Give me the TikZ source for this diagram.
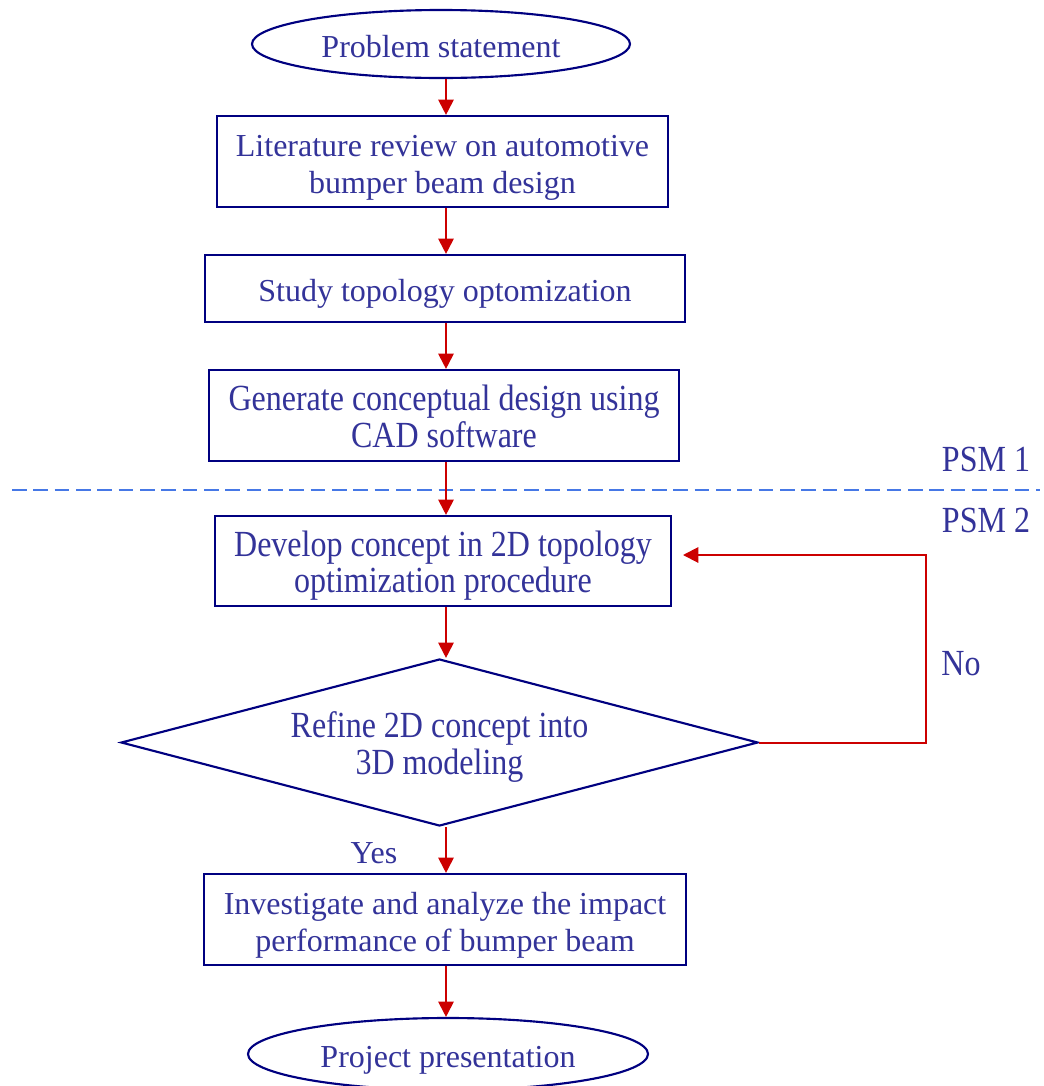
\documentclass[tikz,border=0pt]{standalone}
\usepackage{fontspec}
\setmainfont{Liberation Serif}
\usepackage{graphicx}
\usetikzlibrary{arrows.meta,shapes.geometric,calc}
\definecolor{txtblue}{RGB}{51,51,153}
\definecolor{navyline}{RGB}{0,0,128}
\definecolor{arrred}{RGB}{204,0,0}
\definecolor{dashblue}{RGB}{70,120,230}
% plain text, lowered a little inside its node
\newcommand\tx[1]{\raisebox{-4.5pt}[\height][\depth]{\begin{tabular}{@{}c@{}}#1\end{tabular}}}
% vertically stretched text
\newcommand\vs[2][24pt]{\raisebox{-4.5pt}[\height][\depth]{\scalebox{1}[1.15]{\fontsize{24pt}{#1}\selectfont\begin{tabular}{@{}c@{}}#2\end{tabular}}}}
\begin{document}
\begin{tikzpicture}[x=0.75pt,y=-0.75pt,
  every node/.style={text=txtblue,font=\fontsize{24pt}{27.75pt}\selectfont},
  procbox/.style={draw=navyline,line width=1.6pt,rectangle,inner sep=0pt,align=center},
  terminal/.style={draw=navyline,line width=1.6pt,ellipse,inner sep=0pt,align=center},
  decision/.style={draw=navyline,line width=1.6pt,diamond,inner sep=0pt,aspect=3.81,align=center},
  lbl/.style={inner sep=0pt},
  arr/.style={draw=arrred,line width=1.5pt,-{Triangle[width=11.5pt,length=11.5pt]}}]
\useasboundingbox (0,0) rectangle (1044,1086);
\fill[white] (0,0) rectangle (1044,1086);

\coordinate (ax) at (446,0);

\node[terminal,minimum width=283.5pt,minimum height=51pt] (e1) at (441,44) {\tx{Problem statement}};
\node[procbox,minimum width=338.25pt,minimum height=68.25pt] (b1) at (442.5,161.5) {\tx{Literature review on automotive\\bumper beam design}};
\node[procbox,minimum width=360pt,minimum height=50.25pt] (b2) at (445,288.5) {\tx{Study topology optomization}};
\node[procbox,minimum width=352.5pt,minimum height=68.25pt] (b3) at (444,415.5) {\vs[23.5pt]{Generate conceptual design using\\CAD software}};
\node[procbox,minimum width=342pt,minimum height=67.5pt] (b4) at (443,561) {\vs[23pt]{Develop concept in 2D topology\\optimization procedure}};
\node[decision,minimum width=477.75pt,minimum height=125.25pt] (d) at (439.5,742.5) {\vs[24pt]{Refine 2D concept into\\3D modeling}};
\node[procbox,minimum width=361.5pt,minimum height=68.25pt] (b5) at (445,919.5) {\tx{Investigate and analyze the impact\\performance of bumper beam}};
\node[terminal,minimum width=300pt,minimum height=54pt] (e2) at (448,1054) {\tx{Project presentation}};

% separator
\coordinate (sepL) at (12,490);
\coordinate (sepR) at (1040,490);
\draw[dashblue,line width=1.5pt,dash pattern=on 11pt off 5pt] (sepL) -- (sepR);
\node[lbl] (psm1) at (986,458) {\vs{PSM 1}};
\node[lbl] (psm2) at (986,519) {\vs{PSM 2}};

% connectors
\draw[arr] (e1.south -| ax) -- (b1.north -| ax);
\draw[arr] (b1.south -| ax) -- (b2.north -| ax);
\draw[arr] (b2.south -| ax) -- (b3.north -| ax);
\draw[arr] (b3.south -| ax) -- (b4.north -| ax);
\draw[arr] (b4.south -| ax) -- (d.north -| ax);
\draw[arr] (d.south -| ax) -- (b5.north -| ax);
\draw[arr] (b5.south -| ax) -- (e2.north -| ax);

\coordinate (loopTop) at (926,555);
\coordinate (loopEnd) at (683,555);
\draw[arr] (d.east) -| (loopTop) -- (loopEnd);

\node[lbl] (no) at (961,662) {\vs{No}};
\node[lbl] (yes) at (374,850) {\tx{Yes}};
\end{tikzpicture}
\end{document}
